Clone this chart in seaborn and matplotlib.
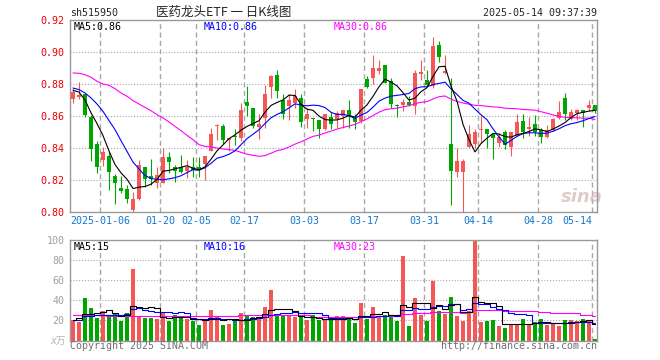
import numpy as np
import pandas as pd
import matplotlib
matplotlib.use('Agg')
import matplotlib.pyplot as plt
import matplotlib.transforms as mtrans
import seaborn as sns

# x axis: trading-day index of each date label
tick_idx = [5, 15, 21, 29, 39, 49, 59, 68, 78, 87]
tick_labels = ['2025-01-06', '01-20', '02-05', '02-17', '03-03',
               '03-17', '03-31', '04-14', '04-28', '05-14']

# daily candles
opens = [.8708, .8717, .8735, .8596, .8425, .8325, .8350, .8227, .8152, .8144,
         .8013, .8081, .8281, .8225, .8179, .8179, .8344, .8281, .8281, .8256,
         .8281, .8281, .8298, .8381, .8535, .8535, .8448, .8477, .8460, .8685,
         .8648, .8531, .8585, .8781, .8854, .8698, .8663, .8683, .8710, .8581,
         .8585, .8573, .8517, .8596, .8579, .8600, .8635, .8585, .8569, .8829,
         .8835, .8881, .8917, .8819, .8671, .8669, .8688, .8665, .8863, .8827,
         .8790, .9046, .8871, .8425, .8248, .8248, .8404, .8427, .8515, .8517,
         .8485, .8433, .8500, .8404, .8477, .8569, .8517, .8548, .8510, .8469,
         .8510, .8585, .8710, .8579, .8617, .8635, .8648, .8667]
highs = [.8773, .8813, .8744, .8606, .8444, .8404, .8377, .8235, .8227, .8169,
         .8127, .8325, .8281, .8331, .8283, .8398, .8373, .8294, .8358, .8325,
         .8346, .8346, .8350, .8527, .8552, .8552, .8460, .8517, .8683, .8788,
         .8648, .8610, .8794, .8854, .8885, .8735, .8735, .8767, .8740, .8648,
         .8585, .8573, .8615, .8625, .8631, .8635, .8698, .8615, .8767, .8850,
         .8981, .8948, .8917, .8835, .8677, .8704, .8725, .8888, .8948, .8888,
         .9092, .9071, .8981, .8835, .8400, .8333, .8546, .8517, .8600, .8517,
         .8496, .8496, .8510, .8500, .8613, .8613, .8594, .8604, .8525, .8544,
         .8590, .8696, .8746, .8642, .8642, .8635, .8698, .8667]
lows = [.8679, .8708, .8592, .8321, .8246, .8288, .8137, .8050, .8117, .8054,
        .7998, .8075, .8158, .8169, .8148, .8179, .8242, .8190, .8242, .8210,
        .8217, .8217, .8200, .8381, .8448, .8423, .8381, .8419, .8444, .8600,
        .8527, .8454, .8527, .8715, .8715, .8579, .8573, .8652, .8531, .8527,
        .8506, .8465, .8510, .8517, .8527, .8527, .8527, .8517, .8558, .8773,
        .8798, .8860, .8804, .8652, .8596, .8633, .8663, .8613, .8823, .8785,
        .8775, .8938, .8865, .8046, .8217, .7988, .8400, .8400, .8433, .8400,
        .8329, .8404, .8392, .8348, .8473, .8465, .8475, .8477, .8429, .8460,
        .8506, .8581, .8575, .8575, .8573, .8531, .8631, .8621]
closes = [.8748, .8733, .8606, .8394, .8283, .8373, .8252, .8183, .8133, .8083,
          .8083, .8294, .8204, .8206, .8229, .8344, .8315, .8256, .8252, .8281,
          .8263, .8265, .8350, .8490, .8544, .8448, .8460, .8469, .8635, .8663,
          .8537, .8548, .8735, .8848, .8756, .8615, .8698, .8725, .8565, .8610,
          .8579, .8519, .8615, .8548, .8617, .8635, .8600, .8565, .8767, .8781,
          .8902, .8898, .8804, .8673, .8665, .8688, .8667, .8867, .8873, .8792,
          .9040, .8967, .8881, .8256, .8317, .8317, .8488, .8500, .8517, .8485,
          .8465, .8469, .8419, .8500, .8563, .8502, .8531, .8502, .8469, .8510,
          .8579, .8627, .8610, .8625, .8635, .8617, .8667, .8631]

# volume in 10k shares
volumes = [20.7, 18.3, 42.3, 32.3, 22.3, 29, 25.7, 26.7, 19.3, 27.3,
           71.3, 23.3, 22.3, 22.3, 21, 27.3, 19.3, 25, 24.3, 21,
           19, 15.3, 20, 30, 23.3, 15, 16.3, 21, 27.3, 24.3,
           23.3, 23.3, 33.3, 50, 25.7, 24.3, 25, 23.3, 24, 20,
           25, 20, 20, 20, 24.3, 24.3, 21, 17.3, 37.3, 21,
           33.3, 24, 25, 24.3, 19.3, 84.3, 14.3, 42.3, 25, 19.3,
           59.3, 29, 26, 43.3, 24.3, 19.3, 29, 100, 18.3, 19.3,
           20, 14.3, 12.3, 16.7, 16.7, 21, 16.7, 18.3, 21, 15.7,
           17.3, 14.3, 20, 20, 19.3, 21.7, 19.3, 1]

# moving-average values at the start of the window (history before the chart)
ma5_head = [.8760, .8750, .8700, .8620]
ma10_head = [.8775, .8765, .8744, .8713, .8675, .8629, .8571, .8515, .8446]
ma30_head = [.8869, .8867, .8858, .8842, .8817, .8800, .8792, .8771, .8744, .8723,
             .8696, .8675, .8654, .8633, .8608, .8588, .8563, .8535, .8508, .8479,
             .8452, .8421, .8410, .8406, .8400, .8394, .8390, .8385, .8373]
vma5_head = [20.7, 22.0, 26.7, 26.7]
vma10_head = [20.7, 20.7, 24.3, 24.3, 25.0, 25.0, 25.3, 25.7, 25.7]
vma30_head = [25.7, 25.7, 25.3, 25.3, 25.0, 25.0, 24.7, 24.7, 24.7, 24.7,
              24.7, 24.7, 24.7, 24.7, 24.5, 24.5, 24.5, 24.5, 24.3, 24.3,
              24.3, 24.3, 24.3, 24.3, 24.3, 24.3, 24.5, 24.7, 25.0]

RED = '#f55656'
GREEN = '#00a600'
GRID = '#a8a8a8'
MONO = 'DejaVu Sans Mono'


def with_head(values, head, n):
    rolled = pd.Series(values).rolling(n).mean().values
    return np.concatenate([head, rolled[len(head):]])


idx = np.arange(len(closes))
o = np.array(opens)
c = np.array(closes)
up = c >= o
colors = np.where(up, RED, GREEN)

ma5 = with_head(closes, ma5_head, 5)
ma10 = with_head(closes, ma10_head, 10)
ma30 = with_head(closes, ma30_head, 30)
vma5 = with_head(volumes, vma5_head, 5)
vma10 = with_head(volumes, vma10_head, 10)
vma30 = with_head(volumes, vma30_head, 30)

sns.set_style('white')
plt.rcParams['font.family'] = [MONO, 'Noto Sans CJK SC']

W, H = 660, 360
fig = plt.figure(figsize=(6.6, 3.6), dpi=100)
ax = fig.add_axes([70 / W, 1 - 212 / H, 527 / W, 192 / H])
ax2 = fig.add_axes([70 / W, 1 - 340.5 / H, 527 / W, 100.5 / H])

xlim = (-0.5, 87.33)

for a in (ax, ax2):
    for s in a.spines.values():
        s.set_color('#999999')
        s.set_linewidth(1.0)
    for t in tick_idx:
        a.axvline(t - 0.5, color=GRID, lw=1.0, dashes=(3.6, 2.4), zorder=0.5)
    a.set_xlim(*xlim)
    a.set_xticks([])

# ---- price panel ----
for lvl in [0.82, 0.84, 0.86, 0.88, 0.90]:
    ax.axhline(lvl, color=GRID, lw=0.8, dashes=(1, 1.6), zorder=0.5)

ax.vlines(idx, lows, highs, colors=colors, lw=0.8, zorder=2)
body_lo = np.minimum(o, c)
body_h = np.maximum(np.abs(c - o), 0.0004)
ax.bar(idx, body_h, bottom=body_lo, width=0.8, color=colors, linewidth=0, zorder=3)

sns.lineplot(x=idx, y=ma30, color='#ff00ff', lw=0.8, errorbar=None, ax=ax, zorder=4)
sns.lineplot(x=idx, y=ma10, color='#0000ff', lw=0.8, errorbar=None, ax=ax, zorder=4)
sns.lineplot(x=idx, y=ma5, color='black', lw=0.8, errorbar=None, ax=ax, zorder=4)

ax.set_ylim(0.80, 0.92)
ax.set_yticks([0.80, 0.82, 0.84, 0.86, 0.88, 0.90, 0.92])
ax.set_yticklabels(['%.2f' % v for v in ax.get_yticks()], color='#ee0000',
                   fontsize=7.2, family=MONO)
ax.tick_params(axis='y', length=0, pad=4)
ax.set_xlim(*xlim)
ax.set_xlabel('')
ax.set_ylabel('')

trans = mtrans.blended_transform_factory(ax.transData, ax.transAxes)
for t, lab in zip(tick_idx, tick_labels):
    ha = 'right' if t == tick_idx[-1] else 'center'
    ax.text(t - 0.5, -0.047, lab, transform=trans, ha=ha, va='center',
            fontsize=7.2, color='#1078d0', family=MONO)

ax.text(4 / 527, 1 - 7 / 192, 'MA5:0.86', transform=ax.transAxes, fontsize=7.2,
        color='black', va='center', family=MONO)
ax.text(134 / 527, 1 - 7 / 192, 'MA10:0.86', transform=ax.transAxes, fontsize=7.2,
        color='#0000ff', va='center', family=MONO)
ax.text(264 / 527, 1 - 7 / 192, 'MA30:0.86', transform=ax.transAxes, fontsize=7.2,
        color='#ff00ff', va='center', family=MONO)

# watermark
ax.text(512 / 527, 15 / 192, 'sina', transform=ax.transAxes, fontsize=13,
        fontweight='bold', style='italic', color='#d8b4b4', alpha=0.7,
        ha='center', va='center', family='DejaVu Sans', zorder=1)

# ---- volume panel ----
for lvl in [20, 40, 60, 80]:
    ax2.axhline(lvl, color=GRID, lw=0.8, dashes=(1, 1.6), zorder=0.5)

vol_df = pd.DataFrame({'idx': idx, 'vol': volumes,
                       'dir': np.where(up, 'up', 'down')})
sns.barplot(data=vol_df, x='idx', y='vol', hue='dir',
            palette={'up': RED, 'down': GREEN}, native_scale=True,
            dodge=False, width=0.8, saturation=1, errorbar=None,
            legend=False, linewidth=0, ax=ax2, zorder=2)

sns.lineplot(x=idx, y=vma30, color='#ff00ff', lw=0.8, errorbar=None,
             drawstyle='steps-mid', ax=ax2, zorder=4)
sns.lineplot(x=idx, y=vma10, color='#0000ff', lw=0.8, errorbar=None,
             drawstyle='steps-mid', ax=ax2, zorder=4)
sns.lineplot(x=idx, y=vma5, color='black', lw=0.8, errorbar=None,
             drawstyle='steps-mid', ax=ax2, zorder=4)

ax2.set_ylim(0, 100)
ax2.set_xlim(*xlim)
ax2.set_xticks([])
ax2.set_yticks([20, 40, 60, 80, 100])
ax2.set_yticklabels(['20', '40', '60', '80', '100'], color='#a0a0a0',
                    fontsize=7.2, family=MONO)
ax2.tick_params(axis='y', length=0, pad=4)
ax2.set_xlabel('')
ax2.set_ylabel('')

ax2.text(4 / 527, 1 - 7 / 100.5, 'MA5:15', transform=ax2.transAxes, fontsize=7.2,
         color='black', va='center', family=MONO)
ax2.text(134 / 527, 1 - 7 / 100.5, 'MA10:16', transform=ax2.transAxes, fontsize=7.2,
         color='#0000ff', va='center', family=MONO)
ax2.text(264 / 527, 1 - 7 / 100.5, 'MA30:23', transform=ax2.transAxes, fontsize=7.2,
         color='#ff00ff', va='center', family=MONO)

# ---- header / footer ----
fig.text(70 / W, 1 - 13 / H, 'sh515950', fontsize=7.2, va='center', family=MONO)
fig.text(224 / W, 1 - 12.5 / H, '医药龙头ETF 一 日K线图', fontsize=9, ha='center',
         va='center', family=['Noto Sans CJK SC', 'DejaVu Sans'])
fig.text(597 / W, 1 - 13 / H, '2025-05-14 09:37:39', fontsize=7.2, ha='right',
         va='center', family=MONO)
fig.text(66 / W, 1 - 341 / H, 'x万', fontsize=7, ha='right', va='center',
         color='#b0b0b0', style='italic', family=['DejaVu Sans', 'Noto Sans CJK SC'])
fig.text(70 / W, 1 - 346 / H, 'Copyright 2025 SINA.COM', fontsize=7.2,
         va='center', color='#707070', family=MONO)
fig.text(597 / W, 1 - 346 / H, 'http://finance.sina.com.cn', fontsize=7.2,
         ha='right', va='center', color='#707070', family=MONO)

fig.savefig('out.png', dpi=100, facecolor='white')
